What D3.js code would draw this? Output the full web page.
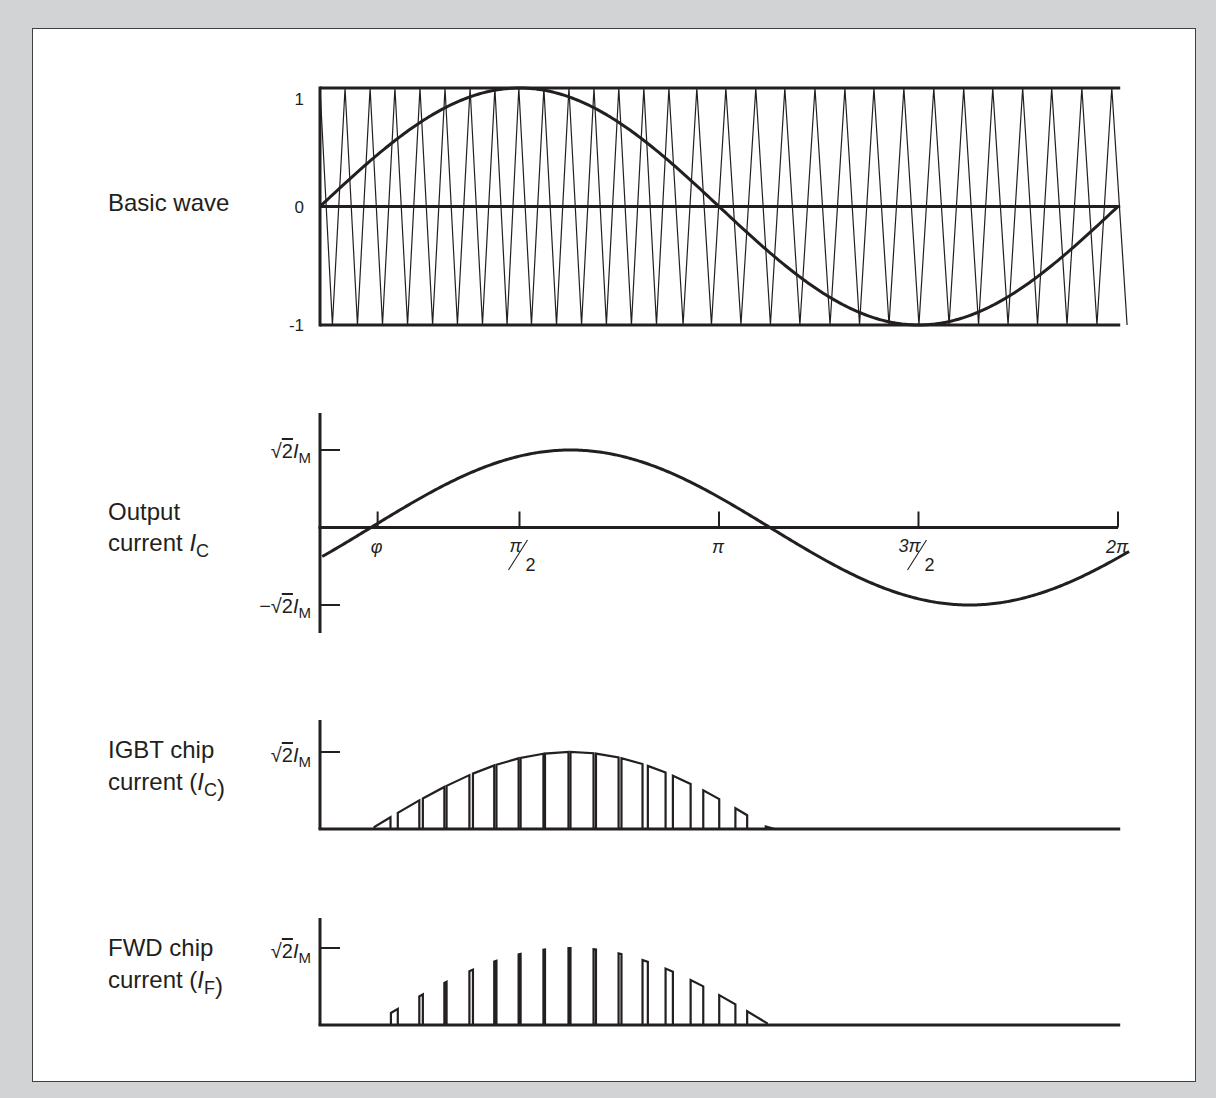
<!DOCTYPE html>
<html>
<head>
<meta charset="utf-8">
<script src="https://cdn.jsdelivr.net/npm/d3@7"></script>
<style>
  body { margin: 0; background: #d1d3d4; }
  svg { display: block; }
  text { font-family: "Liberation Sans", Arial, sans-serif; fill: #231f20; }
</style>
</head>
<body>
<div id="chart"></div>
<script>
// all x values in degrees of the fundamental (0..360 = 0..2pi)
const carrierPeaks = [0, 11.3, 22.6, 33.8, 45.1, 56.4, 67.7, 78.9, 89.7, 101.0, 112.3, 123.6, 134.8, 146.1, 157.4,
  170.0, 183.1, 196.6, 209.7, 223.3, 236.8, 249.9, 263.4, 276.9, 290.4, 303.5, 317.0, 330.1, 343.7, 357.2];
const carrierValleys = [5.6, 16.9, 28.2, 39.5, 50.8, 62.0, 73.3, 84.4, 95.4, 106.7, 118.0, 129.2, 140.5, 151.8, 163.8,
  176.6, 189.9, 203.2, 216.5, 230.1, 243.4, 256.7, 270.2, 283.8, 297.1, 310.4, 323.7, 337.0, 350.5, 364.1];

const basicTicks = [1, 0, -1];
const currentPhase = 23;   // current lags the basic wave by phi
const xTicks = [26, 90, 180, 270, 360];
const xTickLabels = [["φ"], ["π", "2"], ["π"], ["3π", "2"], ["2π"]];

// conduction intervals [start, end]
const igbtPulses = [[24.6, 31.8], [35.1, 44.8], [46.4, 56.1], [57.1, 67.4], [69.0, 78.6], [79.6, 89.6],
  [90.5, 100.8], [101.5, 112.1], [113.0, 123.4], [124.5, 134.7], [136.0, 145.5], [147.9, 155.9],
  [159.2, 167.2], [172.9, 180.1], [187.4, 192.7], [201.1, 205.1]];
const fwdPulses = [[32.0, 35.1], [44.8, 46.4], [56.1, 57.1], [67.4, 69.0], [78.6, 79.6], [89.6, 90.5],
  [100.8, 101.5], [112.1, 113.0], [123.4, 124.5], [134.7, 136.0], [145.5, 147.9], [155.9, 159.2],
  [167.2, 172.9], [180.1, 187.4], [192.7, 201.6]];

// row labels: [text, style] with n = normal, i = italic, s = subscript
const rowLabels = [
  [[["Basic wave", "n"]]],
  [[["Output", "n"]], [["current ", "n"], ["I", "i"], ["C", "s"]]],
  [[["IGBT chip", "n"]], [["current (", "n"], ["I", "i"], ["C", "s"], [")", "n"]]],
  [[["FWD chip", "n"]], [["current (", "n"], ["I", "i"], ["F", "s"], [")", "n"]]]
];
const rowLabelBaselines = [[211], [520, 551], [758, 790], [956, 988]];

const W = 1216, H = 1098;
const ink = "#231f20";

const svg = d3.select("#chart").append("svg")
  .attr("width", W).attr("height", H);

svg.append("rect").attr("width", W).attr("height", H).attr("fill", "#d1d3d4");
svg.append("rect")
  .attr("x", 32.5).attr("y", 28.5).attr("width", 1163).attr("height", 1053)
  .attr("fill", "#fff").attr("stroke", "#404040").attr("stroke-width", 1);

const x = d3.scaleLinear().domain([0, 360]).range([320, 1118]);
const y1 = d3.scaleLinear().domain([-1, 1]).range([325, 88]);
const y2 = d3.scaleLinear().domain([-1, 1]).range([605, 450]);
const y3 = d3.scaleLinear().domain([0, 1]).range([829, 752]);
const y4 = d3.scaleLinear().domain([0, 1]).range([1025, 948]);

const rad = d => d * Math.PI / 180;
const current = d => Math.sin(rad(d - currentPhase));

function hline(g, xa, xb, yy, w) {
  g.append("line").attr("x1", xa).attr("x2", xb).attr("y1", yy).attr("y2", yy)
    .attr("stroke", ink).attr("stroke-width", w);
}
function vline(g, xx, ya, yb, w) {
  g.append("line").attr("x1", xx).attr("x2", xx).attr("y1", ya).attr("y2", yb)
    .attr("stroke", ink).attr("stroke-width", w);
}

// ---- row labels
rowLabels.forEach((lines, r) => {
  lines.forEach((segs, k) => {
    const t = svg.append("text").attr("x", 108).attr("y", rowLabelBaselines[r][k])
      .attr("font-size", 24);
    segs.forEach(([s, st]) => {
      const sp = t.append("tspan").text(s);
      if (st === "i") sp.attr("font-style", "italic");
      if (st === "s") sp.attr("font-size", 18).attr("dy", 6);
    });
  });
});

// ---- panel 1: basic wave with triangular carrier
const p1 = svg.append("g");
const carrier = [];
carrierPeaks.forEach((p, i) => {
  carrier.push([p, 1]);
  carrier.push([carrierValleys[i], -1]);
});
p1.append("path")
  .datum(carrier)
  .attr("d", d3.line().x(d => x(d[0])).y(d => y1(d[1])))
  .attr("fill", "none").attr("stroke", ink).attr("stroke-width", 1.2);

basicTicks.forEach(v => hline(p1, x(0), x(361), y1(v), 3));
vline(p1, x(0), y1(1) - 1.5, y1(-1) + 1.5, 3);

p1.append("path")
  .datum(d3.range(0, 360.5, 1))
  .attr("d", d3.line().x(d => x(d)).y(d => y1(Math.sin(rad(d)))))
  .attr("fill", "none").attr("stroke", ink).attr("stroke-width", 3);

p1.selectAll("text.tick").data(basicTicks).join("text")
  .attr("x", 304)
  .attr("y", d => y1(d) + (d === 1 ? 17 : 6))
  .attr("text-anchor", "end").attr("font-size", 17)
  .text(d => d === -1 ? "-1" : String(d));

// ---- helper for sqrt(2) I_M labels
function imLabel(g, yy, neg) {
  const t = g.append("text").attr("x", 311).attr("y", yy).attr("text-anchor", "end").attr("font-size", 20);
  if (neg) t.append("tspan").text("−");
  t.append("tspan").text("√");
  t.append("tspan").text("2").style("text-decoration", "overline");
  t.append("tspan").attr("font-style", "italic").text("I");
  t.append("tspan").attr("font-size", 15).attr("dy", 5).text("M");
}

// ---- panel 2: output current
const p2 = svg.append("g");
vline(p2, x(0), 413, 633, 3);
hline(p2, x(0) - 1.5, x(360), y2(0), 3);
[1, -1].forEach(v => {
  hline(p2, x(0), x(0) + 20, y2(v), 2);
  imLabel(p2, y2(v) + 8, v < 0);
});
xTicks.forEach((v, i) => {
  vline(p2, x(v), y2(0) - 16, y2(0), 2);
  const lab = xTickLabels[i];
  const tx = x(v);
  if (lab.length === 1) {
    p2.append("text").attr("x", tx - 1).attr("y", 553).attr("text-anchor", "middle")
      .attr("font-size", 18).attr("font-style", "italic").text(lab[0]);
  } else {
    p2.append("text").attr("x", tx + 2).attr("y", 552).attr("text-anchor", "end")
      .attr("font-size", 18).attr("font-style", "italic").text(lab[0]);
    p2.append("line").attr("x1", tx - 11).attr("y1", 570).attr("x2", tx + 8).attr("y2", 540)
      .attr("stroke", ink).attr("stroke-width", 1.1);
    p2.append("text").attr("x", tx + 6).attr("y", 571)
      .attr("font-size", 18).text(lab[1]);
  }
});
p2.append("path")
  .datum(d3.range(1, 365.5, 1))
  .attr("d", d3.line().x(d => x(d)).y(d => y2(current(d))))
  .attr("fill", "none").attr("stroke", ink).attr("stroke-width", 3);

// ---- panels 3 and 4: chip currents
function pulsePanel(pulses, y, axisTop) {
  const g = svg.append("g");
  const h = d => y(Math.max(0, current(d)));
  g.selectAll("path.pulse").data(pulses).join("path")
    .attr("d", d => `M${x(d[0])},${y(0)}L${x(d[0])},${h(d[0])}L${x(d[1])},${h(d[1])}L${x(d[1])},${y(0)}Z`)
    .attr("fill", "#fff").attr("stroke", ink).attr("stroke-width", 2.2)
    .attr("stroke-linejoin", "miter");
  hline(g, x(0) - 1.5, x(361), y(0), 3);
  vline(g, x(0), axisTop, y(0), 3);
  hline(g, x(0), x(0) + 20, y(1), 2);
  imLabel(g, y(1) + 10, false);
}
pulsePanel(igbtPulses, y3, 720);
pulsePanel(fwdPulses, y4, 918);
</script>
</body>
</html>
